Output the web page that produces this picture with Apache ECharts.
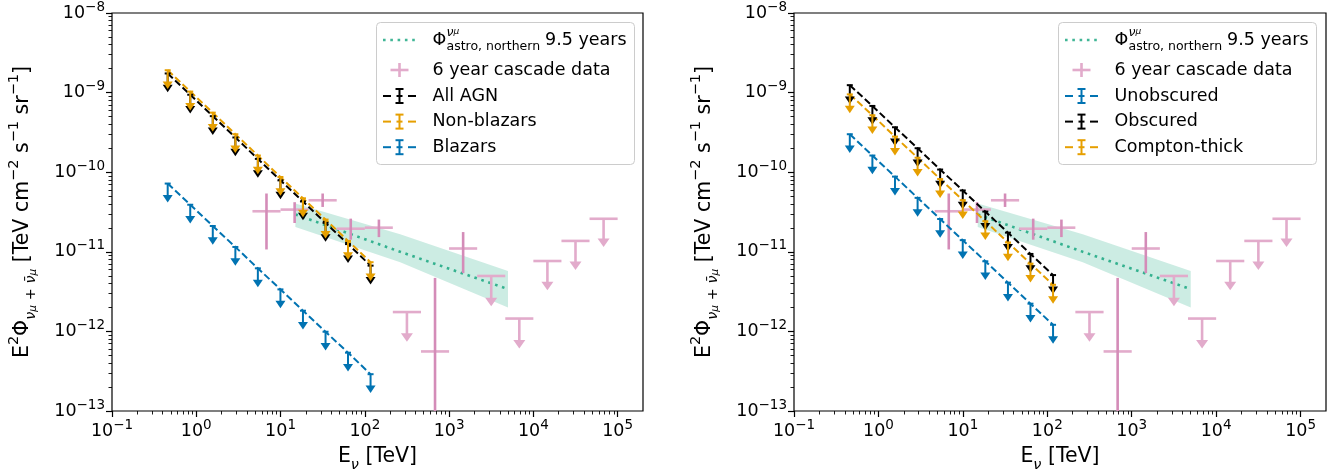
<!DOCTYPE html>
<html>
<head>
<meta charset="utf-8">
<script src="https://cdn.jsdelivr.net/npm/echarts@6/dist/echarts.min.js"></script>
<style>
html, body { margin: 0; padding: 0; background: #fff; }
#chart { width: 1343px; height: 474px; }
</style>
</head>
<body>
<div id="chart"></div>
<script>
// ---- data -------------------------------------------------------------
// Energy bin centres (TeV) of the AGN stacking upper limits
const agnEnergy = [0.458, 0.848, 1.57, 2.91, 5.38, 9.97, 18.45, 34.2, 63.2, 117];

// Left panel: upper limits on E^2 Phi (TeV cm^-2 s^-1 sr^-1)
const allAgn     = [1.74e-9, 9.4e-10, 5.06e-10, 2.73e-10, 1.47e-10, 7.9e-11, 4.29e-11, 2.31e-11, 1.25e-11, 6.7e-12];
const nonBlazars = [1.91e-9, 1.03e-9, 5.6e-10, 3.0e-10, 1.62e-10, 8.7e-11, 4.7e-11, 2.54e-11, 1.37e-11, 7.4e-12];
const blazars    = [7.2e-11, 3.9e-11, 2.11e-11, 1.15e-11, 6.2e-12, 3.37e-12, 1.82e-12, 9.9e-13, 5.4e-13, 2.9e-13];

// Right panel: upper limits by obscuration class
const unobscured   = [3.0e-10, 1.62e-10, 8.8e-11, 4.76e-11, 2.58e-11, 1.4e-11, 7.6e-12, 4.1e-12, 2.23e-12, 1.21e-12];
const obscured     = [1.24e-9, 6.8e-10, 3.67e-10, 2.0e-10, 1.08e-10, 5.9e-11, 3.2e-11, 1.74e-11, 9.4e-12, 5.1e-12];
const comptonThick = [9.5e-10, 5.2e-10, 2.8e-10, 1.52e-10, 8.2e-11, 4.46e-11, 2.42e-11, 1.31e-11, 7.1e-12, 3.85e-12];

// Arrow tip of each upper limit, as a fraction of the limit
const agnArrowFrac = 0.58;

// 6 year cascade spectrum (TeV, TeV cm^-2 s^-1 sr^-1)
const cascadeE    = [6.81, 14.7, 31.6, 68.1, 147, 316, 681, 1468, 3162, 6813, 14678, 31623, 68129];
const cascadeELo  = [4.64, 10, 21.5, 46.4, 100, 215, 464, 1000, 2154, 4642, 10000, 21544, 46416];
const cascadeEHi  = [10, 21.5, 46.4, 100, 215, 464, 1000, 2154, 4642, 10000, 21544, 46416, 100000];
const cascadeFlux = [3.23e-11, 3.39e-11, 4.44e-11, 1.95e-11, 2.01e-11, 1.75e-12, 5.6e-13, 1.1e-11, 4.97e-12, 1.45e-12, 7.66e-12, 1.37e-11, 2.6e-11];
// lower end of the error bar (arrow tip for upper limits)
const cascadeLo   = [1.07e-11, 2.3e-11, 3.66e-11, 1.42e-11, 1.53e-11, 7.4e-13, 1.0e-13, 5.4e-12, 2.07e-12, 6.1e-13, 3.3e-12, 5.9e-12, 1.15e-11];
const cascadeHi   = [5.4e-11, 4.2e-11, 5.4e-11, 2.61e-11, 2.54e-11, null, 4.7e-12, 1.77e-11, null, null, null, null, null];
const cascadeIsUL = [false, false, false, false, false, true, false, false, true, true, true, true, true];

// Northern-sky astrophysical muon-neutrino flux, 9.5 years
const astroE      = [15, 263, 5000];
const astroFlux   = [2.95e-11, 1.0e-11, 3.4e-12];
const astroBandHi = [4.03e-11, 1.66e-11, 5.74e-12];
const astroBandLo = [2.05e-11, 7.4e-12, 1.99e-12];

// Axis ticks
const xMajor = [0.1, 1, 10, 100, 1000, 10000, 100000];
const yMajor = [1e-13, 1e-12, 1e-11, 1e-10, 1e-9, 1e-8];

// ---- styling ----------------------------------------------------------
const FONT = 'DejaVu Sans';
const C_BLACK = '#000000';
const C_ORANGE = '#e69f00';
const C_BLUE = '#0173b2';
const C_GREEN = '#029e73';
const C_PINK_LIGHT = '#e2abcb';
const C_PINK_DARK = '#d48cb8';
const BAND_FILL = 'rgba(2,158,115,0.2)';

function minorTicks(lo, hi) {
  const out = [];
  for (let d = Math.floor(Math.log10(lo)); d <= Math.ceil(Math.log10(hi)); d++) {
    for (let m = 2; m <= 9; m++) {
      const v = m * Math.pow(10, d);
      if (v > lo && v < hi) out.push(v);
    }
  }
  return out;
}
const X_MIN = 0.1, X_MAX = 2e5, Y_MIN = 1e-13, Y_MAX = 1e-8;
const xMinor = minorTicks(X_MIN, X_MAX);
const yMinor = minorTicks(Y_MIN, Y_MAX);

const tickRich = {
  b: { fontFamily: FONT, fontSize: 17.5, color: '#000', lineHeight: 26 },
  e: { fontFamily: FONT, fontSize: 13.5, color: '#000', lineHeight: 11, verticalAlign: 'top' }
};
function powLabel(v) {
  const e = Math.round(Math.log10(v));
  return '{b|10}{e|' + (e < 0 ? '\u2212' + (-e) : String(e)) + '}';
}

// panel geometry
const PANELS = [
  { left: 112, width: 531 },
  { left: 794, width: 532 }
];
const GRID_TOP = 13, GRID_H = 398;

// ---- series builders --------------------------------------------------
function dashedLine(p, name, values, color) {
  return {
    type: 'line', name, xAxisIndex: 2 * p, yAxisIndex: 2 * p,
    data: agnEnergy.map((e, i) => [e, values[i]]),
    symbol: 'none', silent: true, animation: false, z: 5,
    lineStyle: { color, width: 2, type: [7, 3.2] }
  };
}
function upperLimits(p, values, color) {
  return {
    type: 'custom', xAxisIndex: 2 * p, yAxisIndex: 2 * p,
    data: agnEnergy.map((e, i) => [e, values[i], values[i] * agnArrowFrac]),
    encode: { x: 0, y: [1, 2] }, silent: true, animation: false, z: 6,
    renderItem(params, api) {
      const top = api.coord([api.value(0), api.value(1)]);
      const tip = api.coord([api.value(0), api.value(2)]);
      const ah = 7.5, aw = 5;
      const x = top[0];
      return {
        type: 'group', children: [
          { type: 'line', shape: { x1: x, y1: top[1], x2: x, y2: tip[1] - ah + 1 }, style: { stroke: color, lineWidth: 2 } },
          { type: 'line', shape: { x1: x - 3, y1: top[1], x2: x + 3, y2: top[1] }, style: { stroke: color, lineWidth: 2 } },
          { type: 'polygon', shape: { points: [[x - aw, tip[1] - ah], [x + aw, tip[1] - ah], [x, tip[1]]] }, style: { fill: color } }
        ]
      };
    }
  };
}
function astroBand(p) {
  return {
    type: 'custom', xAxisIndex: 2 * p, yAxisIndex: 2 * p,
    data: astroE.map((e, i) => [e, astroBandLo[i], astroBandHi[i]]),
    encode: { x: 0, y: [1, 2] }, silent: true, animation: false, z: 1,
    renderItem(params, api) {
      if (params.dataIndex !== 0) return null;
      const up = astroE.map((e, i) => api.coord([e, astroBandHi[i]]));
      const dn = astroE.map((e, i) => api.coord([e, astroBandLo[i]])).reverse();
      return { type: 'polygon', shape: { points: up.concat(dn) }, style: { fill: BAND_FILL } };
    }
  };
}
function astroLine(p) {
  return {
    type: 'line', xAxisIndex: 2 * p, yAxisIndex: 2 * p,
    data: astroE.map((e, i) => [e, astroFlux[i]]),
    symbol: 'none', silent: true, animation: false, z: 2,
    lineStyle: { color: C_GREEN, width: 2.6, type: [2.6, 4.7], opacity: 0.75 }
  };
}
function cascade(p) {
  return {
    type: 'custom', xAxisIndex: 2 * p, yAxisIndex: 2 * p,
    data: cascadeE.map((e, i) => [e, cascadeELo[i], cascadeEHi[i], cascadeFlux[i], cascadeLo[i], cascadeHi[i] == null ? cascadeFlux[i] : cascadeHi[i], cascadeIsUL[i] ? 1 : 0]),
    encode: { x: 0, y: 3 }, silent: true, animation: false, z: 3,
    renderItem(params, api) {
      const cs = params.coordSys;
      const bottom = cs.y + cs.height;
      const c = api.coord([api.value(0), api.value(3)]);
      const l = api.coord([api.value(1), api.value(3)]);
      const r = api.coord([api.value(2), api.value(3)]);
      const lo = api.coord([api.value(0), api.value(4)]);
      const hi = api.coord([api.value(0), api.value(5)]);
      const isUL = api.value(6) === 1;
      const children = [
        { type: 'line', shape: { x1: l[0], y1: c[1], x2: r[0], y2: c[1] }, style: { stroke: C_PINK_LIGHT, lineWidth: 2.6 } }
      ];
      if (isUL) {
        const ah = 8.5, aw = 6;
        children.push({ type: 'line', shape: { x1: c[0], y1: c[1], x2: c[0], y2: lo[1] - ah + 1 }, style: { stroke: C_PINK_LIGHT, lineWidth: 2.6 } });
        children.push({ type: 'polygon', shape: { points: [[c[0] - aw, lo[1] - ah], [c[0] + aw, lo[1] - ah], [c[0], lo[1]]] }, style: { fill: C_PINK_LIGHT } });
      } else {
        children.push({ type: 'line', shape: { x1: c[0], y1: hi[1], x2: c[0], y2: Math.min(lo[1], bottom) }, style: { stroke: C_PINK_DARK, lineWidth: 2.6 } });
      }
      return { type: 'group', children };
    }
  };
}

// ---- axes ---------------------------------------------------------------
const xAxes = [], yAxes = [], grids = [];
PANELS.forEach((pn, p) => {
  grids.push({ left: pn.left, top: GRID_TOP, width: pn.width, height: GRID_H, show: true, borderColor: '#000', borderWidth: 1.2, backgroundColor: 'transparent', containLabel: false });
  xAxes.push({
    type: 'log', logBase: 10, min: X_MIN, max: X_MAX, gridIndex: p, position: 'bottom',
    axisLine: { show: false },
    axisTick: { show: true, length: 6, customValues: xMajor, lineStyle: { color: '#000', width: 1.2 } },
    axisLabel: { customValues: xMajor, formatter: powLabel, rich: tickRich, margin: 7, color: '#000' },
    splitLine: { show: false }, minorTick: { show: false }
  });
  xAxes.push({
    type: 'log', logBase: 10, min: X_MIN, max: X_MAX, gridIndex: p, position: 'bottom',
    axisLine: { show: false },
    axisTick: { show: true, length: 3.5, customValues: xMinor, lineStyle: { color: '#000', width: 0.9 } },
    axisLabel: { show: false }, splitLine: { show: false }
  });
  yAxes.push({
    type: 'log', logBase: 10, min: Y_MIN, max: Y_MAX, gridIndex: p, position: 'left',
    axisLine: { show: false },
    axisTick: { show: true, length: 6, customValues: yMajor, lineStyle: { color: '#000', width: 1.2 } },
    axisLabel: { customValues: yMajor, formatter: powLabel, rich: tickRich, margin: 7, color: '#000' },
    splitLine: { show: false }
  });
  yAxes.push({
    type: 'log', logBase: 10, min: Y_MIN, max: Y_MAX, gridIndex: p, position: 'left',
    axisLine: { show: false },
    axisTick: { show: true, length: 3.5, customValues: yMinor, lineStyle: { color: '#000', width: 0.9 } },
    axisLabel: { show: false }, splitLine: { show: false }
  });
});

// ---- series -------------------------------------------------------------
const series = [];
[0, 1].forEach(p => {
  series.push(astroBand(p), astroLine(p), cascade(p));
});
series.push(dashedLine(0, 'All AGN', allAgn, C_BLACK), upperLimits(0, allAgn, C_BLACK));
series.push(dashedLine(0, 'Non-blazars', nonBlazars, C_ORANGE), upperLimits(0, nonBlazars, C_ORANGE));
series.push(dashedLine(0, 'Blazars', blazars, C_BLUE), upperLimits(0, blazars, C_BLUE));
series.push(dashedLine(1, 'Unobscured', unobscured, C_BLUE), upperLimits(1, unobscured, C_BLUE));
series.push(dashedLine(1, 'Obscured', obscured, C_BLACK), upperLimits(1, obscured, C_BLACK));
series.push(dashedLine(1, 'Compton-thick', comptonThick, C_ORANGE), upperLimits(1, comptonThick, C_ORANGE));

// ---- titles and legends (graphic layer) ---------------------------------
const titleRich = {
  n: { fontFamily: FONT, fontSize: 20.5, color: '#000', lineHeight: 32 },
  sp: { fontFamily: FONT, fontSize: 14.5, color: '#000', lineHeight: 13, verticalAlign: 'top' },
  sb: { fontFamily: FONT, fontSize: 14.5, color: '#000', lineHeight: 12, verticalAlign: 'bottom', fontStyle: 'italic' },
  sbr: { fontFamily: FONT, fontSize: 14.5, color: '#000', lineHeight: 12, verticalAlign: 'bottom' },
  ssb: { fontFamily: FONT, fontSize: 10.5, color: '#000', lineHeight: 5, verticalAlign: 'bottom', fontStyle: 'italic' }
};
const yTitle = '{n|E}{sp|2}{n|\u03a6}{sb|\u03bd}{ssb|\u03bc}{sbr| + }{sb|\u03bd\u0304}{ssb|\u03bc}{n| [TeV cm}{sp|\u22122}{n| s}{sp|\u22121}{n| sr}{sp|\u22121}{n|]}';
const xTitle = '{n|E}{sb|\u03bd}{n| [TeV]}';

const legendEntries = [
  ['All AGN', C_BLACK], ['Non-blazars', C_ORANGE], ['Blazars', C_BLUE]
];
const legendEntriesRight = [
  ['Unobscured', C_BLUE], ['Obscured', C_BLACK], ['Compton-thick', C_ORANGE]
];

const graphics = [];
PANELS.forEach((pn, p) => {
  const dx = pn.left - PANELS[0].left;
  const cx = pn.left + pn.width / 2;
  graphics.push({
    type: 'text', x: dx + 23, y: GRID_TOP + GRID_H / 2, rotation: Math.PI / 2, silent: true,
    style: { text: yTitle, rich: titleRich, align: 'center', verticalAlign: 'middle' }
  });
  graphics.push({
    type: 'text', x: cx, y: 457, silent: true,
    style: { text: xTitle, rich: titleRich, align: 'center', verticalAlign: 'middle' }
  });
  // legend frame
  const lx = 376 + dx;
  graphics.push({
    type: 'rect', silent: true, shape: { x: lx + 0.5, y: 22.5, width: 258, height: 142, r: 4 },
    style: { fill: 'rgba(255,255,255,0.8)', stroke: '#cccccc', lineWidth: 1 }, z: 100
  });
  const sx0 = 383 + dx, sx1 = 417 + dx, sxc = 399.5 + dx, tx = 432.5 + dx;
  // astrophysical flux entry
  graphics.push({ type: 'line', silent: true, z: 101, shape: { x1: sx0, y1: 40, x2: sx1, y2: 40 }, style: { stroke: C_GREEN, lineWidth: 2.6, lineDash: [2.6, 4.7], opacity: 0.75 } });
  graphics.push({ type: 'text', silent: true, z: 101, x: tx, y: 40, style: { text: '\u03a6', font: '17.5px "DejaVu Sans"', fill: '#000', verticalAlign: 'middle' } });
  graphics.push({ type: 'text', silent: true, z: 101, x: tx + 14, y: 32, style: { text: '{a|\u03bd}{b|\u03bc}', rich: { a: { fontFamily: FONT, fontSize: 12.5, fontStyle: 'italic', lineHeight: 12, verticalAlign: 'top' }, b: { fontFamily: FONT, fontSize: 9, fontStyle: 'italic', lineHeight: 12, verticalAlign: 'middle' } }, verticalAlign: 'middle', fill: '#000' } });
  graphics.push({ type: 'text', silent: true, z: 101, x: tx + 14, y: 46.5, style: { text: 'astro, northern', font: '12.5px "DejaVu Sans"', fill: '#000', verticalAlign: 'middle' } });
  graphics.push({ type: 'text', silent: true, z: 101, x: tx + 112.5, y: 40, style: { text: '9.5 years', font: '17.5px "DejaVu Sans"', fill: '#000', verticalAlign: 'middle' } });
  // cascade entry
  graphics.push({ type: 'line', silent: true, z: 101, shape: { x1: sxc - 9, y1: 70, x2: sxc + 9, y2: 70 }, style: { stroke: C_PINK_LIGHT, lineWidth: 2.6 } });
  graphics.push({ type: 'line', silent: true, z: 101, shape: { x1: sxc, y1: 63, x2: sxc, y2: 77 }, style: { stroke: C_PINK_LIGHT, lineWidth: 2.6 } });
  graphics.push({ type: 'text', silent: true, z: 101, x: tx, y: 70, style: { text: '6 year cascade data', font: '17.5px "DejaVu Sans"', fill: '#000', verticalAlign: 'middle' } });
  // source class entries: short dash, capped bar, short dash
  (p === 0 ? legendEntries : legendEntriesRight).forEach(([label, color], k) => {
    const yy = 96 + k * 25.6;
    graphics.push({ type: 'line', silent: true, z: 101, shape: { x1: sx0, y1: yy, x2: sx0 + 8, y2: yy }, style: { stroke: color, lineWidth: 2 } });
    graphics.push({ type: 'line', silent: true, z: 101, shape: { x1: sx1 - 9, y1: yy, x2: sx1 - 1, y2: yy }, style: { stroke: color, lineWidth: 2 } });
    graphics.push({ type: 'line', silent: true, z: 102, shape: { x1: sxc, y1: yy - 7, x2: sxc, y2: yy + 7 }, style: { stroke: color, lineWidth: 2 } });
    graphics.push({ type: 'line', silent: true, z: 102, shape: { x1: sxc - 4, y1: yy - 7, x2: sxc + 4, y2: yy - 7 }, style: { stroke: color, lineWidth: 2 } });
    graphics.push({ type: 'line', silent: true, z: 102, shape: { x1: sxc - 4, y1: yy + 7, x2: sxc + 4, y2: yy + 7 }, style: { stroke: color, lineWidth: 2 } });
    graphics.push({ type: 'line', silent: true, z: 102, shape: { x1: sxc - 3, y1: yy, x2: sxc + 3, y2: yy }, style: { stroke: color, lineWidth: 2 } });
    graphics.push({ type: 'text', silent: true, z: 102, x: tx, y: yy, style: { text: label, font: '17.5px "DejaVu Sans"', fill: '#000', verticalAlign: 'middle' } });
  });
});

const chart = echarts.init(document.getElementById('chart'), null, { renderer: 'canvas' });
chart.setOption({
  animation: false,
  backgroundColor: '#fff',
  grid: grids,
  xAxis: xAxes,
  yAxis: yAxes,
  series,
  graphic: graphics
});
</script>
</body>
</html>
